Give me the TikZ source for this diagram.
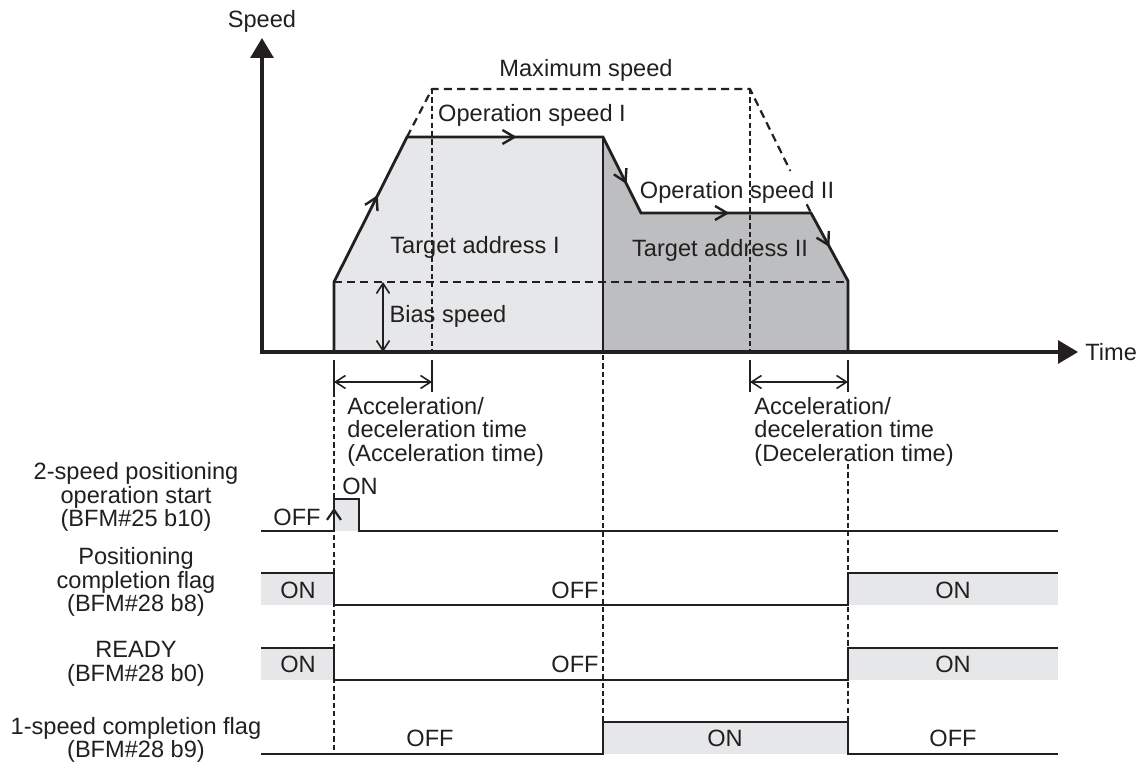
\documentclass[tikz,border=0pt]{standalone}
\usepackage{fontspec}
\setmainfont{Liberation Sans}
\usetikzlibrary{arrows.meta,positioning,calc,decorations.markings}
\definecolor{areaone}{HTML}{E6E7E8}
\definecolor{areatwo}{HTML}{BCBEC0}
\definecolor{ink}{HTML}{231F20}

\begin{document}
\begin{tikzpicture}[
  x=0.5pt, y=-0.5pt,
  lbl/.style={font=\fontsize{11.8}{11.7}\selectfont, text=ink, inner sep=0pt, align=center},
  axis/.style={{Triangle[length=10pt,width=11.5pt]}-{Triangle[length=10pt,width=11.5pt]}, ink, line width=1.6pt},
  profile/.style={ink, line width=1.4pt, line join=miter},
  limit/.style={ink, line width=1.1pt, dash pattern=on 4pt off 2.6pt},
  guide/.style={ink, line width=0.8pt, dash pattern=on 2.6pt off 1.6pt},
  dim/.style={{Straight Barb[length=5pt,width=6.5pt]}-{Straight Barb[length=5pt,width=6.5pt]}, ink, line width=0.8pt},
  signal/.style={ink, line width=1.3pt},
  flowmark/.style={postaction={decorate}, decoration={markings,
      mark=at position #1 with {\arrow[ink, line width=1.2pt]{Straight Barb[length=6pt,width=7pt]}}}},
]
  \useasboundingbox (0,0) rectangle (1143,764);

  % speed profile corners
  \coordinate (o)    at (262,352);
  \coordinate (ytip) at (262,38);
  \coordinate (xtip) at (1078,352);
  \coordinate (s0)   at (334,352);
  \coordinate (b0)   at (334,282);
  \coordinate (v1a)  at (407,137);
  \coordinate (v1b)  at (603,137);
  \coordinate (s1)   at (603,352);
  \coordinate (v2a)  at (641,213);
  \coordinate (v2b)  at (811,213);
  \coordinate (b2)   at (848,281);
  \coordinate (s2)   at (848,352);
  \coordinate (m1)   at (432,89);
  \coordinate (m2)   at (750,89);

  \fill[areaone] (s0) -- (b0) -- (v1a) -- (v1b) -- (s1) -- cycle;
  \fill[areatwo] (s1) -- (v1b) -- (v2a) -- (v2b) -- (b2) -- (s2) -- cycle;

  \draw[guide] (m1) -- (m1 |- o);
  \draw[guide] (m2) -- (m2 |- o);
  \draw[limit] (b0) -- (s2 |- b0);
  \draw[limit] (v1a) -- (m1) -- (m2) -- ($(m2)!0.66!(v2b)$);
  \draw[limit] ($(m2)!0.93!(v2b)$) -- (v2b);

  \draw[profile] (s0) -- (b0) -- (v1a) -- (v1b) -- (v2a) -- (v2b) -- (b2) -- (s2);
  \draw[profile] (v1b) -- (s1);
  \path[flowmark=0.6]  (b0) -- (v1a);
  \path[flowmark=0.56] (v1a) -- (v1b);
  \path[flowmark=0.62] (v1b) -- (v2a);
  \path[flowmark=0.52] (v2a) -- (v2b);
  \path[flowmark=0.5]  (v2b) -- (b2);

  \draw[axis] (ytip) -- (o) -- (xtip);

  % bias speed and acc/dec time
  \coordinate (bsa) at (383,282);
  \coordinate (bsb) at (383,352);
  \draw[dim] (bsa) -- (bsb);
  \foreach \tx in {334,432,750,848}
    \draw[ink, line width=0.8pt] (\tx,360) -- (\tx,392);
  \draw[dim] (334,382) -- (432,382);
  \draw[dim] (750,382) -- (848,382);

  % time markers down through the signals
  \draw[guide] (334,392) -- (334,754);
  \draw[guide] (603,355) -- (603,722);
  \draw[guide] (848,464) -- (848,722);

  % 2-speed positioning operation start
  \fill[areaone] (334,499) rectangle (359,531);
  \draw[signal] (261,531) -- (334,531) -- (334,499) -- (359,499) -- (359,531) -- (1058,531);
  \path[postaction={decorate}, decoration={markings, mark=at position 0.72 with
      {\arrow[ink, line width=1.1pt]{Straight Barb[length=5pt,width=7pt]}}}] (334,531) -- (334,499);

  % positioning completion flag, READY
  \foreach \hi/\lo in {573/605, 648/680} {
    \fill[areaone] (261,\hi) rectangle (334,\lo);
    \fill[areaone] (848,\hi) rectangle (1058,\lo);
    \draw[signal] (261,\hi) -- (334,\hi) -- (334,\lo) -- (848,\lo) -- (848,\hi) -- (1058,\hi);
  }

  % 1-speed completion flag
  \fill[areaone] (603,722) rectangle (848,754);
  \draw[signal] (261,754) -- (603,754) -- (603,722) -- (848,722) -- (848,754) -- (1058,754);

  % labels
  \node[lbl, above=2.5pt of ytip] (speed) {Speed};
  \node[lbl, right=3.5pt of xtip] (time) {Time};
  \node[lbl] (maxlbl) at (586,70) {Maximum speed};
  \node[lbl] (op1) at (532,115) {Operation speed I};
  \node[lbl] (op2) at (737,192) {Operation speed II};
  \node[lbl] (tgt1) at (475,247) {Target address I};
  \node[lbl] (tgt2) at (720,250) {Target address II};
  \node[lbl] (bias) at (448,316) {Bias speed};
  \node[lbl, align=left, anchor=north west] (acc) at (347,397)
    {Acceleration/\\deceleration time\\(Acceleration time)};
  \node[lbl, align=left, anchor=north west] (dec) at (754,397)
    {Acceleration/\\deceleration time\\(Deceleration time)};

  \node[lbl] (start) at (136,497) {2-speed positioning\\operation start\\(BFM\#25 b10)};
  \node[lbl] (poscomp) at (136,582) {Positioning\\completion flag\\(BFM\#28 b8)};
  \node[lbl] (ready) at (136,664) {READY\\(BFM\#28 b0)};
  \node[lbl] (onecomp) at (136,740) {1-speed completion flag\\(BFM\#28 b9)};

  \node[lbl] (starton)  at (360,486) {ON};
  \node[lbl] (startoff) at (297,517) {OFF};
  \node[lbl] (poson1)   at (298,590) {ON};
  \node[lbl] (posoff)   at (575,590) {OFF};
  \node[lbl] (poson2)   at (953,590) {ON};
  \node[lbl] (readyon1) at (298,664) {ON};
  \node[lbl] (readyoff) at (575,664) {OFF};
  \node[lbl] (readyon2) at (953,664) {ON};
  \node[lbl] (oneoff1)  at (430,738) {OFF};
  \node[lbl] (oneon)    at (725,738) {ON};
  \node[lbl] (oneoff2)  at (953,738) {OFF};
\end{tikzpicture}
\end{document}
